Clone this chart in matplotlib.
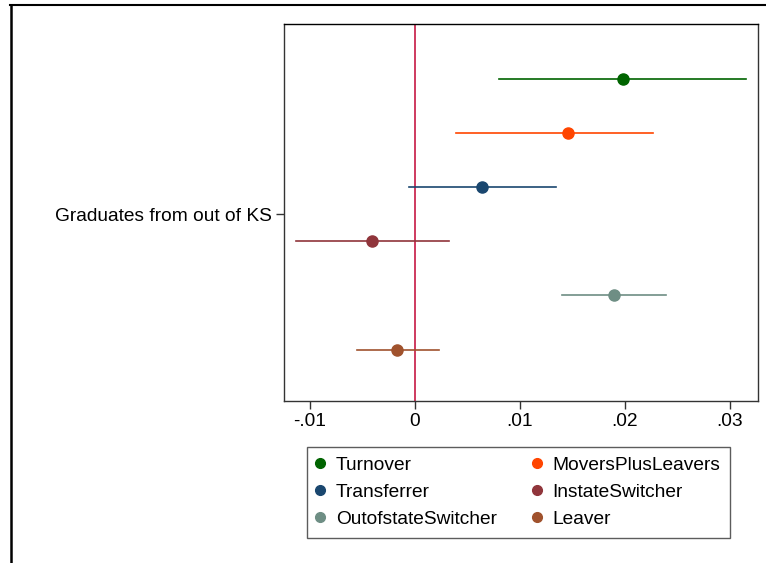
import matplotlib
matplotlib.use("Agg")
import matplotlib.pyplot as plt
from matplotlib.lines import Line2D

plt.rcParams['font.family'] = ['Liberation Sans', 'DejaVu Sans']

series = ["Turnover", "MoversPlusLeavers", "Transferrer",
          "InstateSwitcher", "OutofstateSwitcher", "Leaver"]
estimates = [0.0198, 0.0146, 0.0064, -0.0041, 0.0190, -0.0017]
ci_low = [0.0080, 0.0039, -0.0006, -0.0113, 0.0140, -0.0055]
ci_high = [0.0315, 0.0227, 0.0134, 0.0032, 0.0239, 0.0023]
colors = ["#006400", "#ff4500", "#1a476f", "#90353b", "#6e8e84", "#a0522d"]
category = "Graduates from out of KS"
xticks = [-0.01, 0, 0.01, 0.02, 0.03]
xticklabels = ["-.01", "0", ".01", ".02", ".03"]

FS = 13.8

fig = plt.figure(figsize=(7.66, 5.63), dpi=100)
ax = fig.add_axes([284/766, 1-401/563, 474/766, 377/563])

n = len(series)
offsets = [(i - (n - 1) / 2) * 0.1 for i in range(n)]
handles = []
for i, name in enumerate(series):
    y = 1 + offsets[i]
    ax.plot([ci_low[i], ci_high[i]], [y, y], color=colors[i], lw=1.2, zorder=2)
    ax.plot(estimates[i], y, 'o', color=colors[i], ms=8, zorder=3)
    handles.append(Line2D([], [], marker='o', color=colors[i], ls='none', ms=7, label=name))

ax.axvline(0, color="#c10534", lw=1.1, zorder=1)

ax.set_xlim(-0.012476, 0.032667)
ax.set_ylim(1.345, 0.6494)
ax.set_xticks(xticks)
ax.set_xticklabels(xticklabels, fontsize=FS)
ax.set_yticks([1])
ax.set_yticklabels([category], fontsize=FS)
ax.tick_params(axis='both', length=6, width=1, color="#333333", direction='out')
ax.tick_params(axis='x', pad=3)
ax.tick_params(axis='y', pad=3)
for s in ax.spines.values():
    s.set_color("#333333")
    s.set_linewidth(1.0)
ax.spines['top'].set_color("black")

# row-wise legend order (matplotlib fills columns first)
order = [0, 2, 4, 1, 3, 5]
leg = fig.legend(handles=[handles[k] for k in order], ncol=2, loc='upper left',
                 bbox_to_anchor=(307/766, 1-447/563), borderaxespad=0,
                 frameon=True, fancybox=False, edgecolor="#333333",
                 fontsize=FS, handlelength=0.4, handletextpad=0.61,
                 columnspacing=1.9, labelspacing=0.5, borderpad=0.5)
leg.get_frame().set_linewidth(1.0)

# outer figure border lines (top and left)
fig.add_artist(Line2D([10/766, 1], [1-4.5/563, 1-4.5/563], color='black', lw=1.5,
                      transform=fig.transFigure))
fig.add_artist(Line2D([10.5/766, 10.5/766], [0, 1-4.5/563], color='black', lw=1.8,
                      transform=fig.transFigure))

fig.savefig("out.png", dpi=100, facecolor='white')
